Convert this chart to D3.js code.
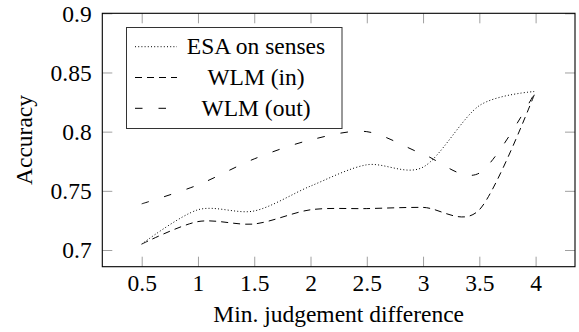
<!DOCTYPE html>
<html>
<head>
<meta charset="utf-8">
<script src="https://cdn.jsdelivr.net/npm/d3@7/dist/d3.min.js"></script>
<style>
  html, body { margin: 0; padding: 0; background: #fff; }
  svg { display: block; }
</style>
</head>
<body>
<div id="chart"></div>
<script>
// values
const xValues = [0.5, 1, 1.5, 2, 2.5, 3, 3.5, 4];
const esaSenses = [0.705, 0.734, 0.733, 0.754, 0.772, 0.770, 0.822, 0.834];
const wlmIn = [0.705, 0.724, 0.722, 0.734, 0.735, 0.736, 0.734, 0.834];
const wlmOut = [0.739, 0.755, 0.777, 0.793, 0.800, 0.781, 0.765, 0.834];
const seriesNames = ['ESA on senses', 'WLM (in)', 'WLM (out)'];
const xTicks = [0.5, 1, 1.5, 2, 2.5, 3, 3.5, 4];
const yTicks = [0.7, 0.75, 0.8, 0.85, 0.9];

const W = 579, H = 332;
const FONT = '"Liberation Serif", "Times New Roman", serif';
const FS = '23.5px';
const TICK = '#a0a0a0';
const margin = { top: 13.3, right: 4, bottom: 65.3, left: 102.3 };
const innerW = W - margin.left - margin.right;
const innerH = H - margin.top - margin.bottom;

const svg = d3.select('#chart').append('svg').attr('width', W).attr('height', H);
const g = svg.append('g').attr('transform', `translate(${margin.left},${margin.top})`);

const x = d3.scaleLinear().domain([0.15, 4.35]).range([0, innerW]);
const y = d3.scaleLinear().domain([0.6859, 0.9]).range([innerH, 0]);
const fmt = (d) => String(d);

// inward ticks on all four sides
const axB = g.append('g').attr('transform', `translate(0,${innerH})`)
  .call(d3.axisBottom(x).tickValues(xTicks).tickSize(-10).tickFormat(fmt));
axB.selectAll('text').attr('y', 24).attr('dy', null);
const axT = g.append('g')
  .call(d3.axisTop(x).tickValues(xTicks).tickSize(-10).tickFormat(''));
const axL = g.append('g')
  .call(d3.axisLeft(y).tickValues(yTicks).tickSize(-10).tickFormat(fmt));
axL.selectAll('text').attr('x', -10.6).attr('dy', '0.33em');
const axR = g.append('g').attr('transform', `translate(${innerW},0)`)
  .call(d3.axisRight(y).tickValues(yTicks).tickSize(-10).tickFormat(''));

[axB, axT, axL, axR].forEach((a) => {
  a.select('.domain').remove();
  a.selectAll('.tick line').attr('stroke', TICK).attr('stroke-width', 1);
  a.selectAll('text').attr('fill', '#000').style('font-family', FONT).style('font-size', FS);
});

const series = [
  { name: seriesNames[0], values: esaSenses, dash: '1 2.2', cap: 'butt' },
  { name: seriesNames[1], values: wlmIn, dash: '7 5', cap: 'butt' },
  { name: seriesNames[2], values: wlmOut, dash: '7.5 16', cap: 'butt' },
];

const line = d3.line()
  .x((d) => x(d[0]))
  .y((d) => y(d[1]))
  .curve(d3.curveCardinal.tension(0.1));

series.forEach((s) => {
  g.append('path')
    .datum(xValues.map((xv, i) => [xv, s.values[i]]))
    .attr('fill', 'none')
    .attr('stroke', '#000')
    .attr('stroke-width', 1)
    .attr('stroke-dasharray', s.dash)
    .attr('d', line);
});

// axis box
g.append('rect')
  .attr('x', 0).attr('y', 0).attr('width', innerW).attr('height', innerH)
  .attr('fill', 'none').attr('stroke', '#000').attr('stroke-width', 1.1);

// legend
const leg = svg.append('g').attr('transform', 'translate(126.5,27.5)');
leg.append('rect')
  .attr('width', 215.5).attr('height', 101)
  .attr('fill', '#fff').attr('stroke', '#333').attr('stroke-width', 1);
series.forEach((s, i) => {
  const ry = 19.2 + i * 30.8;
  leg.append('line')
    .attr('x1', 8.5).attr('x2', 50.5).attr('y1', ry).attr('y2', ry)
    .attr('stroke', '#000').attr('stroke-width', 1)
    .attr('stroke-dasharray', s.dash);
  leg.append('text')
    .attr('x', 129.5).attr('y', ry + 7.5)
    .attr('text-anchor', 'middle')
    .style('font-family', FONT).style('font-size', FS)
    .text(s.name);
});

// axis labels
svg.append('text')
  .attr('x', margin.left + innerW / 2).attr('y', 322.3)
  .attr('text-anchor', 'middle')
  .style('font-family', FONT).style('font-size', FS)
  .text('Min. judgement difference');
svg.append('text')
  .attr('transform', `translate(31.7,${margin.top + innerH / 2}) rotate(-90)`)
  .attr('text-anchor', 'middle')
  .style('font-family', FONT).style('font-size', FS)
  .text('Accuracy');
</script>
</body>
</html>
